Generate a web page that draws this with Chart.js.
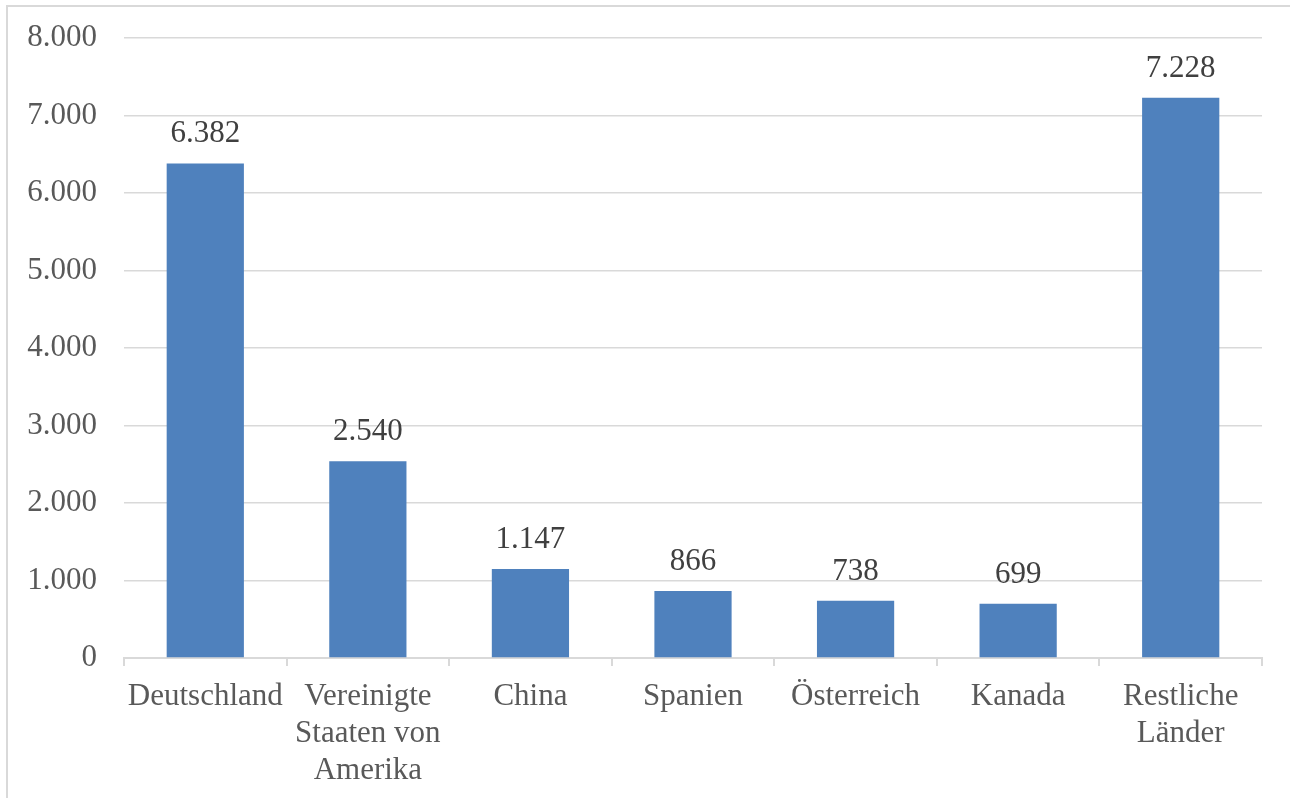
<!DOCTYPE html>
<html>
<head>
<meta charset="utf-8">
<script src="https://cdn.jsdelivr.net/npm/chart.js@4.4.1/dist/chart.umd.min.js"></script>
<style>
html,body{margin:0;padding:0;background:#fff;}
#wrap{position:relative;width:1290px;height:798px;overflow:hidden;}
#frame{position:absolute;left:6px;top:5px;width:1400px;height:900px;border:2px solid #d9d9d9;box-sizing:border-box;}
canvas{position:absolute;left:0;top:0;}
</style>
</head>
<body>
<div id="wrap">
<div id="frame"></div>
<canvas id="c" width="1290" height="798"></canvas>
</div>
<script>
const categories = ["Deutschland", ["Vereinigte","Staaten von","Amerika"], "China", "Spanien", "Österreich", "Kanada", ["Restliche","Länder"]];
const values = [6382, 2540, 1147, 866, 738, 699, 7228];
const yTicks = { min: 0, max: 8000, step: 1000 };

function fmt(v){ return String(Math.round(v)).replace(/\B(?=(\d{3})+(?!\d))/g, "."); }

const FONT = "'Liberation Serif','Times New Roman',serif";

const valueLabels = {
  id: 'valueLabels',
  afterDatasetsDraw(chart){
    const ctx = chart.ctx;
    const meta = chart.getDatasetMeta(0);
    ctx.save();
    ctx.font = "31px " + FONT;
    ctx.fillStyle = "#404040";
    ctx.textAlign = "center";
    ctx.textBaseline = "alphabetic";
    meta.data.forEach((bar, i) => {
      ctx.fillText(fmt(values[i]), bar.x, bar.y - 21);
    });
    ctx.restore();
  }
};

new Chart(document.getElementById('c'), {
  type: 'bar',
  data: {
    labels: categories,
    datasets: [{
      data: values,
      backgroundColor: '#4F81BD',
      borderWidth: 0,
      barPercentage: 1,
      categoryPercentage: 0.475
    }]
  },
  options: {
    responsive: false,
    animation: false,
    layout: { padding: { left: 0, right: 28, top: 38, bottom: 0 } },
    plugins: { legend: { display: false }, tooltip: { enabled: false } },
    scales: {
      x: {
        grid: { display: true, drawOnChartArea: false, drawTicks: true, tickLength: 8, color: '#d9d9d9', lineWidth: 2, offset: true },
        border: { display: true, color: '#d9d9d9', width: 2 },
        ticks: { color: '#595959', font: { family: FONT, size: 31, lineHeight: 1.2 }, padding: 12, maxRotation: 0, autoSkip: false },
        afterFit(scale){ scale.height = 798 - 658; }
      },
      y: {
        min: yTicks.min, max: yTicks.max,
        grid: { color: '#d9d9d9', lineWidth: 1.5, drawTicks: true, tickLength: 27, tickColor: 'rgba(0,0,0,0)' },
        border: { display: false },
        ticks: { stepSize: yTicks.step, color: '#595959', font: { family: FONT, size: 31 }, padding: 0, callback: v => fmt(v) },
        afterFit(scale){ scale.width = 124; }
      }
    }
  },
  plugins: [valueLabels]
});
</script>
</body>
</html>
